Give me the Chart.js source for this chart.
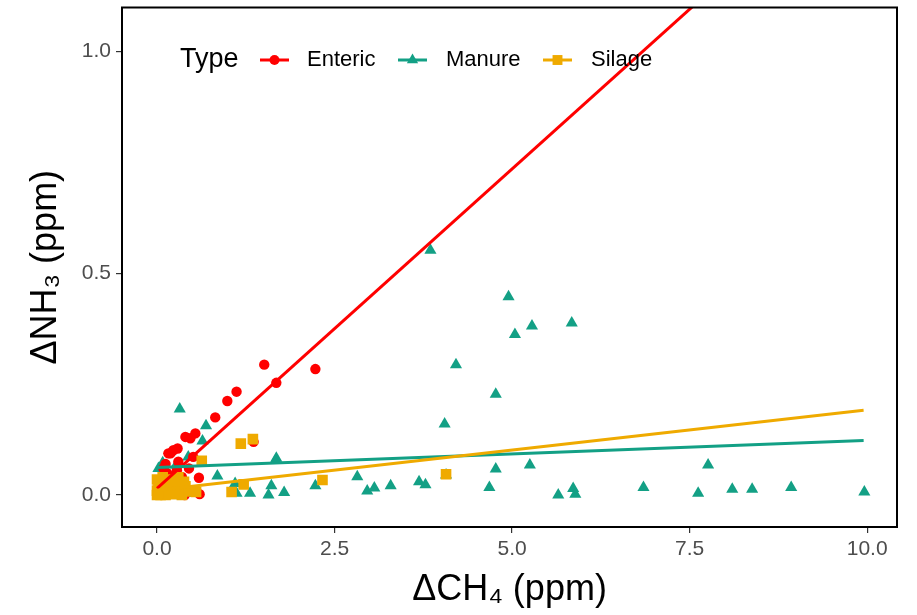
<!DOCTYPE html>
<html>
<head>
<meta charset="utf-8">
<script src="https://cdn.jsdelivr.net/npm/chart.js@4.4.1/dist/chart.umd.min.js"></script>
<style>
  html, body { margin: 0; padding: 0; background: #ffffff; }
  #wrap { width: 917px; height: 615px; }
</style>
</head>
<body>
<div id="wrap"><canvas id="c" width="917" height="615"></canvas></div>
<script>
// ---------- DATA ----------
const types = ['Enteric', 'Manure', 'Silage'];

const entericX = [1.51, 2.23, 1.68, 1.12, 0.99, 0.82, 0.54, 0.40, 0.47, 0.29, 0.19, 1.36, 0.59, 0.51, 0.39, 0.60,
                  0.23, 0.16, 0.09, 0.14, 0.28, 0.35, 0.10, 0.20, 0.05, 0.30, 0.25, 0.12, 0.33, 0.45];
const entericY = [0.294, 0.284, 0.253, 0.233, 0.212, 0.175, 0.139, 0.131, 0.128, 0.105, 0.094, 0.120, 0.039, 0.086, 0.000, 0.002,
                  0.101, 0.094, 0.060, 0.050, 0.056, 0.041, 0.030, 0.020, 0.015, 0.075, 0.045, 0.070, 0.010, 0.060];

const manureX = [3.85, 4.95, 5.28, 5.04, 5.84, 4.21, 4.77, 4.05, 4.77, 5.25, 7.76, 3.29, 3.69, 3.78, 4.07, 4.68,
                 5.65, 5.86, 5.89, 6.85, 7.62, 8.10, 8.38, 8.93, 9.96, 0.32, 0.69, 0.64, 0.08, 0.27, 0.44, 1.68,
                 1.67, 0.85, 1.10, 1.12, 1.31, 1.61, 1.57, 1.79, 2.23, 0.42, 2.82, 2.96, 3.06, 0.02, 0.15];
const manureY = [0.552, 0.447, 0.381, 0.362, 0.388, 0.294, 0.227, 0.160, 0.059, 0.068, 0.068, 0.021, 0.030, 0.023, 0.045, 0.017,
                 0.000, 0.015, 0.002, 0.017, 0.004, 0.013, 0.013, 0.017, 0.007, 0.194, 0.156, 0.122, 0.073, 0.068, 0.086, 0.083,
                 0.078, 0.043, 0.026, 0.004, 0.004, 0.021, 0.000, 0.006, 0.021, 0.004, 0.041, 0.009, 0.016, 0.060, 0.045];

const silageX = [4.07, 1.18, 1.35, 0.63, 1.22, 1.05, 2.33, 0.55, 0.00, 0.02, 0.00, 0.05, 0.10, 0.15, 0.20, 0.25,
                 0.30, 0.35, 0.40, 0.45, 0.08, 0.12, 0.30, 0.00, 0.18, 0.02, 0.22, 0.38];
const silageY = [0.047, 0.116, 0.126, 0.077, 0.024, 0.007, 0.034, 0.007, 0.035, 0.025, 0.010, 0.000, 0.005, 0.020, 0.010, 0.030,
                 0.015, 0.000, 0.020, 0.008, 0.040, 0.000, 0.040, 0.000, 0.035, 0.005, 0.002, 0.030];

// fitted regression lines, endpoints
const fitX = [0, 9.95];
const entericFitY = [0.015, 1.448];
const manureFitY = [0.062, 0.123];
const silageFitY = [0.011, 0.191];

const xTicks = [0, 2.5, 5, 7.5, 10];
const yTicks = [0, 0.5, 1.0];
const xRange = [-0.493, 10.42];
const yRange = [-0.072, 1.099];

// ---------- STYLE ----------
const colors = { Enteric: '#FF0000', Manure: '#13A085', Silage: '#EFAA00' };
const FONT = '"Liberation Sans", Arial, Helvetica, sans-serif';

const pts = (xs, ys) => xs.map((x, i) => ({ x: x, y: ys[i] }));

const legendPlugin = {
  id: 'insideLegend',
  afterDraw(chart) {
    const ctx = chart.ctx;
    const cy = 60;
    ctx.save();
    ctx.textBaseline = 'middle';
    ctx.textAlign = 'left';
    ctx.fillStyle = '#000000';
    ctx.font = '27px ' + FONT;
    ctx.fillText('Type', 180, cy);
    const keys = [
      { label: types[0], style: 'circle', r: 5, kx: 260, tx: 307 },
      { label: types[1], style: 'triangle', r: 6.5, kx: 398, tx: 446 },
      { label: types[2], style: 'rect', r: 7, kx: 543, tx: 591 }
    ];
    keys.forEach(k => {
      const col = colors[k.label];
      ctx.strokeStyle = col;
      ctx.lineWidth = 3;
      ctx.beginPath();
      ctx.moveTo(k.kx, cy);
      ctx.lineTo(k.kx + 29, cy);
      ctx.stroke();
      ctx.fillStyle = col;
      Chart.helpers.drawPoint(ctx, { pointStyle: k.style, radius: k.r, rotation: 0, borderWidth: 0 }, k.kx + 14.5, cy);
      ctx.fillStyle = '#000000';
      ctx.font = '22px ' + FONT;
      ctx.fillText(k.label, k.tx, cy);
    });
    ctx.restore();
  }
};

const borderPlugin = {
  id: 'panelBorder',
  afterDatasetsDraw(chart) {
    const a = chart.chartArea;
    const ctx = chart.ctx;
    ctx.save();
    ctx.strokeStyle = '#000000';
    ctx.lineWidth = 2;
    ctx.strokeRect(a.left, a.top, a.right - a.left, a.bottom - a.top);
    ctx.restore();
  }
};

const pointDS = (name, xs, ys, style, r, order) => ({
  type: 'scatter',
  label: name,
  data: pts(xs, ys),
  pointStyle: style,
  pointRadius: r,
  pointHoverRadius: r,
  pointBackgroundColor: colors[name],
  pointBorderColor: colors[name],
  pointBorderWidth: 0,
  showLine: false,
  order: order
});

const lineDS = (name, ys, order) => ({
  type: 'line',
  label: name + ' fit',
  data: pts(fitX, ys),
  borderColor: colors[name],
  borderWidth: 3,
  pointRadius: 0,
  fill: false,
  tension: 0,
  order: order
});

new Chart(document.getElementById('c'), {
  data: {
    datasets: [
      lineDS('Silage', silageFitY, 0),
      lineDS('Manure', manureFitY, 1),
      lineDS('Enteric', entericFitY, 2),
      pointDS('Silage', silageX, silageY, 'rect', 7.5, 3),
      pointDS('Enteric', entericX, entericY, 'circle', 5.2, 4),
      pointDS('Manure', manureX, manureY, 'triangle', 7, 5)
    ]
  },
  options: {
    responsive: false,
    animation: false,
    devicePixelRatio: 1,
    layout: { padding: { top: 7, right: 20, left: 0, bottom: 0 } },
    plugins: { legend: { display: false }, tooltip: { enabled: false } },
    scales: {
      x: {
        type: 'linear',
        min: xRange[0],
        max: xRange[1],
        afterFit: s => { s.height = 88; s.paddingLeft = 0; s.paddingRight = 0; },
        afterBuildTicks: s => { s.ticks = xTicks.map(v => ({ value: v })); },
        grid: { display: true, drawOnChartArea: false, drawTicks: true, tickLength: 6, color: '#333333', lineWidth: 1.2 },
        border: { display: false },
        ticks: {
          padding: 4,
          color: '#4D4D4D',
          font: { family: FONT, size: 21 },
          maxRotation: 0,
          autoSkip: false,
          callback: v => Number(v).toFixed(1)
        },
        title: {
          display: true,
          text: 'ΔCH₄ (ppm)',
          color: '#000000',
          font: { family: FONT, size: 36 },
          padding: { top: 0, bottom: 3 }
        }
      },
      y: {
        type: 'linear',
        min: yRange[0],
        max: yRange[1],
        afterFit: s => { s.width = 122; s.paddingTop = 0; s.paddingBottom = 0; },
        afterBuildTicks: s => { s.ticks = yTicks.map(v => ({ value: v })); },
        grid: { display: true, drawOnChartArea: false, drawTicks: true, tickLength: 6, color: '#333333', lineWidth: 1.2 },
        border: { display: false },
        ticks: {
          padding: 5,
          color: '#4D4D4D',
          font: { family: FONT, size: 21 },
          autoSkip: false,
          callback: v => Number(v).toFixed(1)
        },
        title: {
          display: true,
          text: 'ΔNH₃ (ppm)',
          color: '#000000',
          font: { family: FONT, size: 36 },
          padding: { top: 24, bottom: 0 }
        }
      }
    }
  },
  plugins: [borderPlugin, legendPlugin]
});
</script>
</body>
</html>
